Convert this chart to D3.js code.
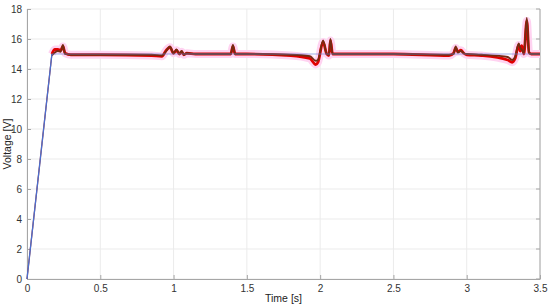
<!DOCTYPE html>
<html>
<head>
<meta charset="utf-8">
<script src="https://cdn.jsdelivr.net/npm/d3@7"></script>
<style>
body{margin:0;background:#fff;}
svg{display:block;font-family:"Liberation Sans",Arial,sans-serif;}
</style>
</head>
<body>
<svg id="chart" width="550" height="307"></svg>
<script>
// reference (blue)
var refT = [0, 0.17, 3.5];
var refV = [0, 15, 15];

// measured time points
var time = [0, 0.17, 0.19, 0.21, 0.23, 0.245, 0.26, 0.3, 0.5, 0.85, 0.92, 0.95, 0.975, 1.0, 1.02, 1.04, 1.055, 1.07, 1.09, 1.15,
	1.39, 1.405, 1.42, 1.5, 1.8, 1.93, 1.97, 1.985, 2.02, 2.045, 2.06, 2.07, 2.085, 2.1, 2.5,
	2.88, 2.91, 2.925, 2.94, 2.96, 2.98, 3.0, 3.1, 3.28, 3.31, 3.33, 3.355, 3.365, 3.375, 3.39, 3.41, 3.425, 3.44, 3.5];
// averaged output (dark)
var avgV = [0, 14.9, 15.1, 15.2, 15.15, 15.6, 15.0, 14.95, 14.95, 14.95, 14.9, 15.2, 15.5, 15.05, 15.3, 15.0, 15.2, 14.95, 15.05, 15.0,
	15.0, 15.6, 15.0, 15.0, 14.95, 14.85, 14.55, 14.6, 15.9, 15.0, 14.95, 16.0, 15.0, 15.0, 15.0,
	14.95, 15.0, 15.5, 15.1, 15.2, 15.05, 15.0, 14.95, 14.8, 14.6, 14.8, 15.7, 15.4, 15.3, 15.05, 17.4, 15.1, 15.0, 15.0];
// instantaneous output (red)
var rawV = [0, 15.0, 15.3, 15.3, 15.25, 15.5, 15.05, 14.95, 14.95, 14.9, 14.85, 15.25, 15.45, 15.05, 15.25, 15.0, 15.15, 14.95, 15.05, 15.0,
	15.0, 15.5, 15.0, 15.0, 14.9, 14.7, 14.3, 14.45, 15.8, 15.0, 14.9, 15.9, 15.0, 15.0, 15.0,
	14.9, 15.05, 15.4, 15.15, 15.25, 15.05, 14.95, 14.9, 14.6, 14.45, 14.7, 15.6, 15.2, 15.55, 15.0, 17.2, 15.1, 15.0, 15.0];

var yTicks = [0, 2, 4, 6, 8, 10, 12, 14, 16, 18];
var xTicks = [0, 0.5, 1, 1.5, 2, 2.5, 3, 3.5];

var svg = d3.select("#chart");
var margin = {left: 27, right: 10, top: 9, bottom: 28};
var W = 550, H = 307;
var x = d3.scaleLinear().domain([0, 3.5]).range([margin.left, W - margin.right]);
var y = d3.scaleLinear().domain([0, 18]).range([H - margin.bottom, margin.top]);

// grid
svg.append("g").selectAll("line").data(xTicks).enter().append("line")
	.attr("x1", d => x(d)).attr("x2", d => x(d))
	.attr("y1", y(0)).attr("y2", y(18))
	.style("stroke", "#ebebeb").style("stroke-width", 1);
svg.append("g").selectAll("line").data(yTicks).enter().append("line")
	.attr("x1", x(0)).attr("x2", x(3.5))
	.attr("y1", d => y(d)).attr("y2", d => y(d))
	.style("stroke", "#ebebeb").style("stroke-width", 1);

// axes
var xAxis = d3.axisBottom(x).tickValues(xTicks).tickFormat(d3.format("")).tickSizeInner(-4).tickSizeOuter(0).tickPadding(6);
var yAxis = d3.axisLeft(y).tickValues(yTicks).tickSizeInner(-4).tickSizeOuter(0).tickPadding(5);
var gx = svg.append("g").attr("transform", "translate(0," + y(0) + ")").call(xAxis);
var gy = svg.append("g").attr("transform", "translate(" + x(0) + ",0)").call(yAxis);
[gx, gy].forEach(g => {
	g.select(".domain").style("stroke", "#a6a6a6");
	g.selectAll(".tick line").style("stroke", "#a6a6a6");
	g.selectAll(".tick text").style("fill", "#333").style("font-size", "10px").style("font-family", "Liberation Sans, Arial, sans-serif");
});
// right border
svg.append("line").attr("x1", x(3.5)).attr("x2", x(3.5)).attr("y1", y(0)).attr("y2", y(18))
	.style("stroke", "#a6a6a6");
svg.append("g").selectAll("line").data(yTicks).enter().append("line")
	.attr("x1", x(3.5) - 4).attr("x2", x(3.5))
	.attr("y1", d => y(d)).attr("y2", d => y(d))
	.style("stroke", "#a6a6a6");

// series
var raw = time.map((t, i) => [t, rawV[i]]);
var avg = time.map((t, i) => [t, avgV[i]]);
var ref = refT.map((t, i) => [t, refV[i]]);
var line = d3.line().x(d => x(d[0])).y(d => y(d[1])).curve(d3.curveMonotoneX);
var lineStraight = d3.line().x(d => x(d[0])).y(d => y(d[1]));

// switching ripple band (pink), red, dark average
svg.append("path").attr("d", line(raw.slice(1))).style("fill", "none")
	.style("stroke", "#ffd3f1").style("stroke-width", 8).style("stroke-linejoin", "round");
svg.append("path").attr("d", lineStraight(raw.slice(0, 2))).style("fill", "none")
	.style("stroke", "#b03020").style("stroke-width", 1.2);
svg.append("path").attr("d", line(raw.slice(1))).style("fill", "none")
	.style("stroke", "#e00000").style("stroke-width", 2.8).style("stroke-linejoin", "round");
svg.append("path").attr("d", line(avg.slice(1))).style("fill", "none")
	.style("stroke", "#742c12").style("stroke-width", 1.8);
// reference on top
svg.append("path").attr("d", lineStraight(ref.slice(0, 2))).style("fill", "none")
	.style("stroke", "#4a6fd0").style("stroke-width", 1.3);
svg.append("path").attr("d", lineStraight(ref.slice(1))).style("fill", "none")
	.style("stroke", "#6a7fd8").style("stroke-width", 0.9).style("opacity", 0.7);

// labels
svg.append("text").attr("x", (x(0) + x(3.5)) / 2).attr("y", 302)
	.attr("text-anchor", "middle").style("font-size", "10.5px").style("fill", "#222").text("Time [s]");
svg.append("text").attr("transform", "translate(11," + y(9) + ") rotate(-90)")
	.attr("text-anchor", "middle").style("font-size", "10.5px").style("fill", "#222").text("Voltage [V]");
</script>
</body>
</html>
